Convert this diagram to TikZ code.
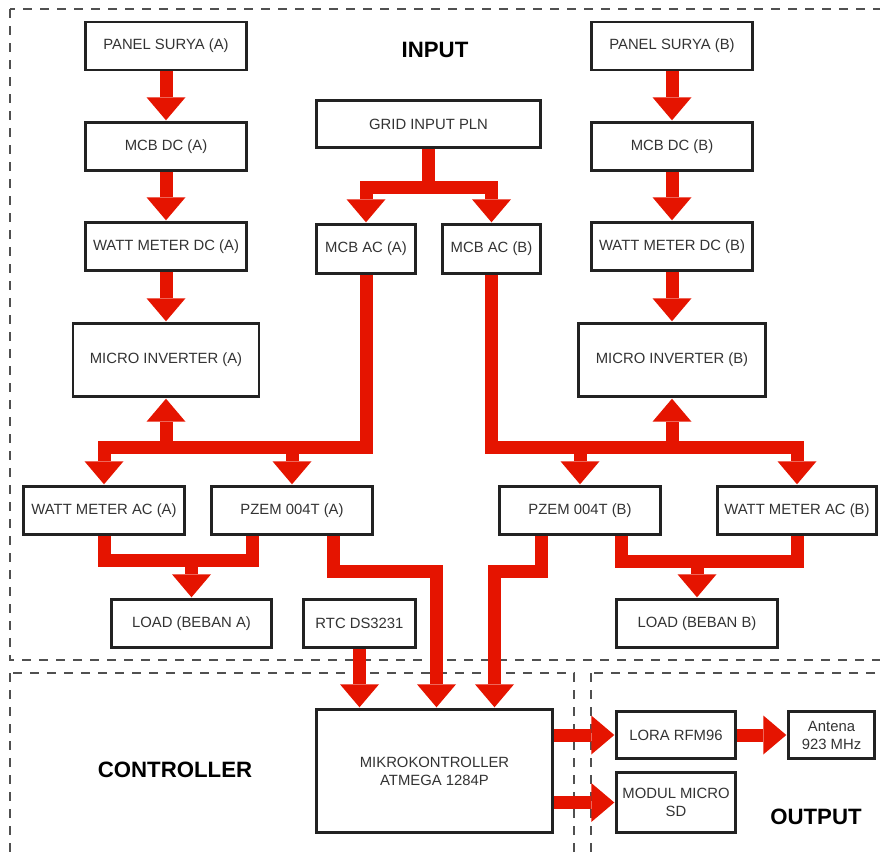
\documentclass[tikz,border=0pt]{standalone}
\usepackage{fontspec}
\setmainfont{Liberation Sans}
\usetikzlibrary{arrows.meta}

\definecolor{pipered}{RGB}{229,20,0}
\definecolor{boxline}{RGB}{34,34,34}
\definecolor{labelgray}{RGB}{51,51,51}
\definecolor{regiongray}{RGB}{80,80,80}
\newcommand\lblfont{\fontsize{14.9}{18}\selectfont}
\newcommand\ttlfont{\fontsize{22.3}{25}\selectfont\bfseries}

\tikzset{
  box/.style={draw=boxline,line width=2.4bp,text=labelgray,font=\lblfont,
    inner sep=0pt,align=center,minimum width=161bp,minimum height=48bp},
  pipe/.style={draw=pipered,line width=13bp,shorten >=1bp,
    -{Triangle[width=39bp,length=23bp,line width=0pt]}},
  bus/.style={draw=pipered,line width=13bp},
  region/.style={draw=regiongray,line width=1.3bp,dash pattern=on 9bp off 8bp},
  title/.style={font=\ttlfont,text=black}
}

\begin{document}
\begin{tikzpicture}[x=1bp,y=-1bp]
  \useasboundingbox (0,0) rectangle (880,858);
  \clip (0,0) rectangle (880,858);
  % regions
  \draw[region] (10,9) rectangle (900,660);
  \draw[region] (10,673) rectangle (574,880);
  \draw[region] (591,673) rectangle (900,880);
  \node[title] (intitle) at (435,50) {INPUT};
  \node[title] (ctltitle) at (175,770) {CONTROLLER};
  \node[title] (outtitle) at (816,817) {OUTPUT};
  % input side
  \node[box] (panelA) at (166,46) {PANEL SURYA (A)};
  \node[box] (mcbdcA) at (166,146.5) {MCB DC (A)};
  \node[box] (wattdcA) at (166,246.5) {WATT METER DC (A)};
  \node[box,minimum width=186bp,minimum height=73bp] (invA) at (166,360) {MICRO INVERTER (A)};
  \node[box] (panelB) at (672,46) {PANEL SURYA (B)};
  \node[box] (mcbdcB) at (672,146.5) {MCB DC (B)};
  \node[box] (wattdcB) at (672,246.5) {WATT METER DC (B)};
  \node[box,minimum width=187bp,minimum height=73bp] (invB) at (672,360) {MICRO INVERTER (B)};
  \node[box,minimum width=224bp,minimum height=47bp] (grid) at (428.5,124) {GRID INPUT PLN};
  \node[box,minimum width=99bp,minimum height=49bp] (mcbacA) at (366,249) {MCB AC (A)};
  \node[box,minimum width=98bp,minimum height=49bp] (mcbacB) at (491.5,249) {MCB AC (B)};
  \node[box] (wattacA) at (104,510.5) {WATT METER AC (A)};
  \node[box] (pzemA) at (292,510.5) {PZEM 004T (A)};
  \node[box] (pzemB) at (580,510.5) {PZEM 004T (B)};
  \node[box,minimum width=159bp] (wattacB) at (797,510.5) {WATT METER AC (B)};
  \node[box,minimum width=160bp] (loadA) at (191.5,623.5) {LOAD (BEBAN A)};
  \node[box,minimum width=112bp] (rtc) at (359.5,623.5) {RTC DS3231};
  \node[box] (loadB) at (697,623.5) {LOAD (BEBAN B)};
  % controller and output
  \node[box,minimum width=236bp,minimum height=123bp] (mcu) at (434.5,771) {MIKROKONTROLLER\\ATMEGA 1284P};
  \node[box,minimum width=119bp,minimum height=47bp] (lora) at (676,735) {LORA RFM96};
  \node[box,minimum width=86bp,minimum height=47bp] (ant) at (831.5,735) {Antena\\923 MHz};
  \node[box,minimum width=119bp,minimum height=60bp] (sd) at (676,802.5) {MODUL MICRO\\SD};
  \coordinate (gsplit) at (428.5,187);
  \coordinate (busA) at (366,447);
  \coordinate (busB) at (491.5,447);
  \coordinate (mergeA) at (191.5,560);
  \coordinate (mergeB) at (697,561);
  % power lines
  \foreach \from/\to in {panelA/mcbdcA,mcbdcA/wattdcA,wattdcA/invA,
      panelB/mcbdcB,mcbdcB/wattdcB,wattdcB/invB,lora/ant}
    \draw[pipe] (\from) -- (\to);
  \foreach \to in {mcbacA.north,mcbacB.north}
    \draw[pipe] (grid.south) -- (gsplit) -| (\to);
  \draw[pipe] (mcbacA.south) -- (busA) -| (wattacA.north);
  \foreach \to in {pzemA.north,invA.south}
    \draw[pipe] (busA) -| (\to);
  \draw[pipe] (mcbacB.south) -- (busB) -| (wattacB.north);
  \foreach \to in {pzemB.north,invB.south}
    \draw[pipe] (busB) -| (\to);
  \draw[bus] (wattacA.south) |- (mergeA) -| ([xshift=-40bp]pzemA.south);
  \draw[pipe] (mergeA) -- (loadA.north);
  \draw[bus] ([xshift=41bp]pzemB.south) |- (mergeB) -| (wattacB.south);
  \draw[pipe] (mergeB) -- (loadB.north);
  % data lines
  \draw[pipe] ([xshift=41bp]pzemA.south) -- ++(0,36) -| ([xshift=2bp]mcu.north);
  \draw[pipe] ([xshift=-39bp]pzemB.south) -- ++(0,36) -| ([xshift=60bp]mcu.north);
  \draw[pipe] (rtc.south) -- (rtc.south |- mcu.north);
  \draw[pipe] (mcu.east |- lora) -- (lora.west);
  \draw[pipe] (mcu.east |- sd) -- (sd.west);
\end{tikzpicture}
\end{document}
